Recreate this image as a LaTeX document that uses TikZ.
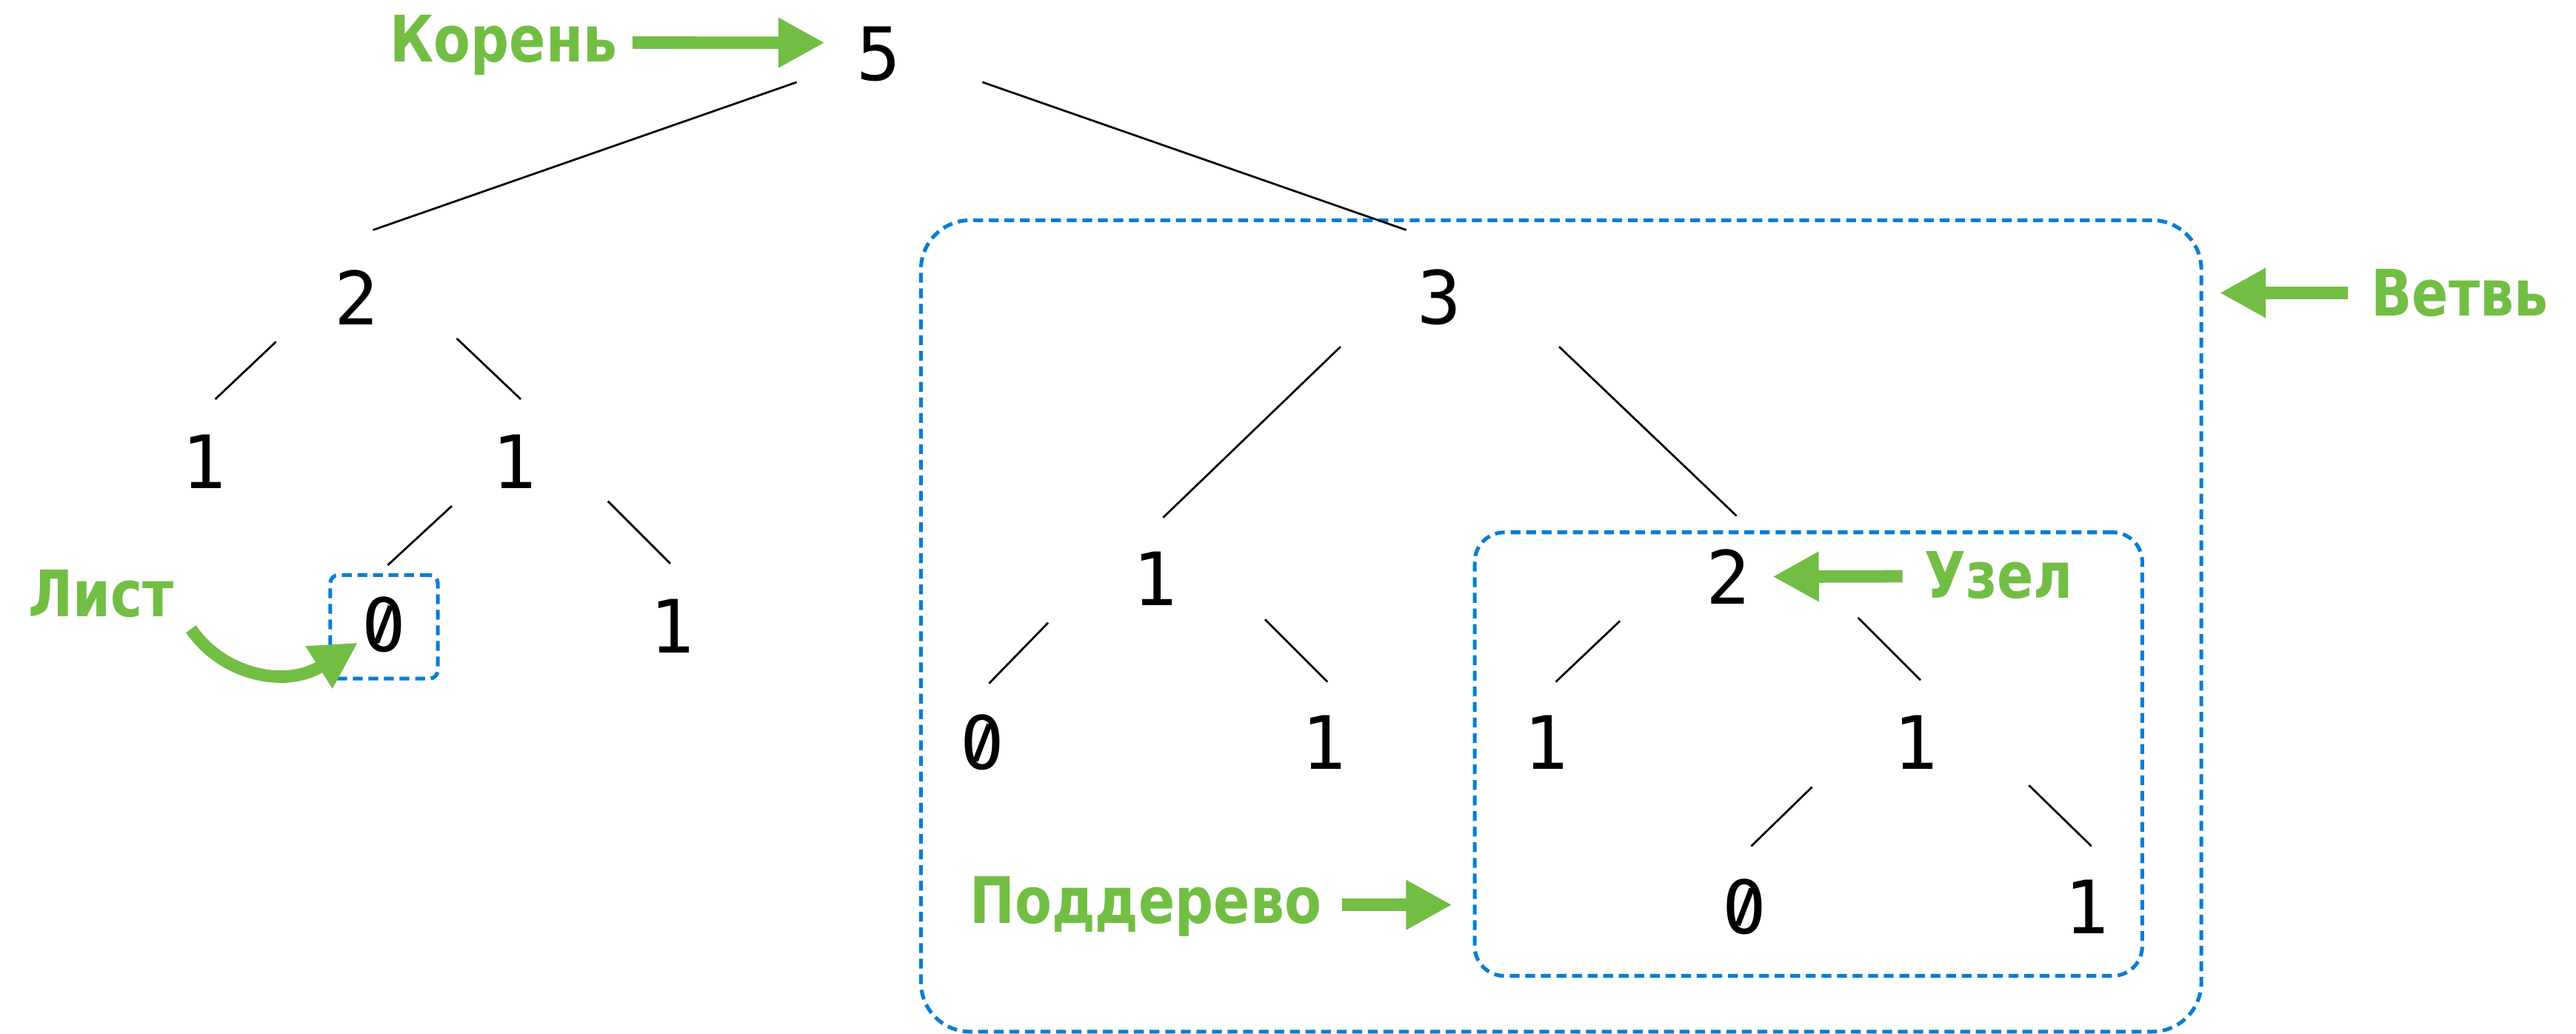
\documentclass[tikz,border=0pt]{standalone}
\usepackage{fontspec}
\usetikzlibrary{arrows.meta,calc}
\newfontfamily\digitfont{DejaVu Sans Mono}
\newfontfamily\labelfont{DejaVu Sans}[FakeStretch=0.84]
\definecolor{leafgreen}{RGB}{114,190,68}
\definecolor{boxblue}{RGB}{3,126,212}

\begin{document}
\begin{tikzpicture}[x=0.02cm, y=-0.02cm,
  num/.style={font=\digitfont\fontsize{25.5pt}{30pt}\selectfont, inner sep=0pt},
  lbl/.style={font=\labelfont\bfseries\fontsize{22.2pt}{26pt}\selectfont,
    text=leafgreen, inner sep=0pt, text height=16.2pt, text depth=0pt, anchor=base west},
  edge/.style={line width=0.7pt},
  garrow/.style={draw=leafgreen, line width=4.3pt, -{Triangle[length=16pt,width=16.2pt]}},
  dbox/.style={draw=boxblue, line width=1.3pt, dash pattern=on 3.4pt off 2pt}]

% canvas
\fill[white] (0,0) rectangle (1568,629);
\useasboundingbox (0,0) rectangle (1568,629);

% dashed frames
\node[dbox, rounded corners=0.1cm, minimum width=1.31cm, minimum height=1.26cm] (leafbox) at (233.75,381.5) {};
\node[dbox, rounded corners=0.6cm, minimum width=15.59cm, minimum height=9.88cm] (branch) at (950.25,381) {};
\node[dbox, rounded corners=0.36cm, minimum width=8.128cm, minimum height=5.4cm] (subtree) at (1100.8,459) {};

% tree values
\node[num] (n5)     at (535,33)  {5};
\node[num] (nL2)    at (217,181) {2};
\node[num] (nR3)    at (876,181) {3};
\node[num] (nLL1)   at (124,281) {1};
\node[num] (nLR1)   at (313,281) {1};
\node[num] (nLR0)   at (233.5,380) {0};
\node[num] (nLRR1)  at (409,381) {1};
\node[num] (nRL1)   at (703,352) {1};
\node[num] (nRR2)   at (1052,351) {2};
\node[num] (nRLL0)  at (598,452) {0};
\node[num] (nRLR1)  at (806,452) {1};
\node[num] (nRRL1)  at (941,452) {1};
\node[num] (nRRR1)  at (1166,452) {1};
\node[num] (nRRRL0) at (1062,552) {0};
\node[num] (nRRRR1) at (1270,552) {1};

% slashed zeros: replace the dotted centre by a diagonal stroke
\foreach \z in {nLR0,nRLL0,nRRRL0}{
  \fill[white] (\z.center) ellipse [x radius=2.5pt, y radius=4.8pt];
  \draw[line width=1.9pt] ([shift={(-2.4pt,-6.3pt)}]\z.center) -- ([shift={(2.4pt,6.3pt)}]\z.center);
}

% tree edges
\draw[edge] ([shift={(-50,17)}]n5.center) -- ([shift={(10,-41)}]nL2.center);
\draw[edge] ([shift={(63,17)}]n5.center) -- ([shift={(-20,-41)}]nR3.center);
\draw[edge] ([shift={(-49,27)}]nL2.center) -- ([shift={(7,-38)}]nLL1.center);
\draw[edge] ([shift={(61,25)}]nL2.center) -- ([shift={(4,-38)}]nLR1.center);
\draw[edge] ([shift={(-38,27)}]nLR1.center) -- ([shift={(2.5,-36)}]nLR0.center);
\draw[edge] ([shift={(57,24)}]nLR1.center) -- ([shift={(-1,-38)}]nLRR1.center);
\draw[edge] ([shift={(-60,30)}]nR3.center) -- ([shift={(5,-37)}]nRL1.center);
\draw[edge] ([shift={(73,30)}]nR3.center) -- ([shift={(5,-37)}]nRR2.center);
\draw[edge] ([shift={(-65,27)}]nRL1.center) -- ([shift={(4,-36)}]nRLL0.center);
\draw[edge] ([shift={(67,25)}]nRL1.center) -- ([shift={(2,-37)}]nRLR1.center);
\draw[edge] ([shift={(-66,27)}]nRR2.center) -- ([shift={(6,-37)}]nRRL1.center);
\draw[edge] ([shift={(79,25)}]nRR2.center) -- ([shift={(3,-38)}]nRRR1.center);
\draw[edge] ([shift={(-63,27)}]nRRR1.center) -- ([shift={(4,-37)}]nRRRL0.center);
\draw[edge] ([shift={(69,26)}]nRRR1.center) -- ([shift={(3,-37)}]nRRRR1.center);

% labels
\node[lbl] (koren) at (237,37.6)  {Корень};
\node[lbl] (vetv)  at (1443,192.5) {Ветвь};
\node[lbl] (uzel)  at (1171,364)  {Узел};
\node[lbl] (list)  at (17,375.5)  {Лист};
\node[lbl] (podd)  at (590,562)   {Поддерево};

% pointers
\draw[garrow] ([shift={(9,2.6)}]koren.east) -- ([shift={(-33,-7)}]n5.center);
\draw[garrow] ([shift={(-14,0)}]vetv.west) -- ($(vetv.west -| branch.east)+(10,0)$);
\draw[garrow] ([shift={(-13,1)}]uzel.west) -- ([shift={(27,0)}]nRR2.center);
\draw[garrow] ([shift={(12,3)}]podd.east) -- ($(podd.east -| subtree.west)+(-12.6,3)$);
\draw[garrow] ([shift={(10,7)}]list.south east) .. controls +(19,28) and +(-44,28) .. ([shift={(18,-23)}]leafbox.south west);
\end{tikzpicture}
\end{document}
